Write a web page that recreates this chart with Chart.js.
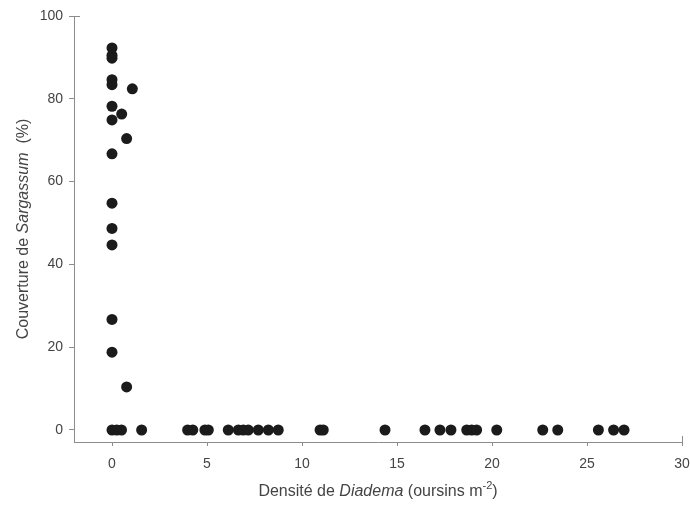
<!DOCTYPE html>
<html><head><meta charset="utf-8">
<script src="https://cdn.jsdelivr.net/npm/chart.js@4"></script>
<style>html,body{margin:0;background:#fff}#c{display:block}</style>
</head><body>
<canvas id="c" width="690" height="509"></canvas>
<script>
// Densité de Diadema (oursins m-2) vs couverture de Sargassum (%)
const densite = [0, 0, 0, 0, 0, 1.07, 0, 0.51, 0, 0.77, 0, 0, 0, 0, 0, 0, 0.77,
  0, 0.25, 0.5, 1.56, 3.98, 4.25, 4.89, 5.07, 6.12, 6.65, 6.91, 7.17, 7.7, 8.23, 8.75,
  10.95, 11.12, 14.37, 16.47, 17.26, 17.84, 18.67, 18.93, 19.19, 20.25, 22.67, 23.46,
  25.6, 26.4, 26.95];
const couverture = [92.3, 90.5, 89.8, 84.6, 83.4, 82.4, 78.2, 76.3, 74.9, 70.4, 66.7, 54.8, 48.7, 44.7, 26.7, 18.8, 10.4,
  0, 0, 0, 0, 0, 0, 0, 0, 0, 0, 0, 0, 0, 0, 0,
  0, 0, 0, 0, 0, 0, 0, 0, 0, 0, 0, 0,
  0, 0, 0];
const xTicks = [0, 5, 10, 15, 20, 25, 30];
const yTicks = [0, 20, 40, 60, 80, 100];

const axisCol = '#8c8c8c';
const textCol = '#444';
const fam = '"Liberation Sans", Arial, sans-serif';

// draws a line of text made of styled pieces, centered on (cx, cy)
function richText(ctx, parts, cx, cy, rot) {
  ctx.save();
  ctx.translate(cx, cy);
  if (rot) ctx.rotate(rot);
  ctx.fillStyle = textCol;
  ctx.textBaseline = 'middle';
  let w = 0;
  for (const p of parts) { ctx.font = p.font; w += ctx.measureText(p.t).width; }
  let x = -w / 2;
  for (const p of parts) {
    ctx.font = p.font;
    ctx.fillText(p.t, x, p.dy || 0);
    x += ctx.measureText(p.t).width;
  }
  ctx.restore();
}

const extras = {
  id: 'extras',
  afterDraw(chart) {
    const ctx = chart.ctx, a = chart.chartArea;
    const xs = chart.scales.x, ys = chart.scales.y;
    ctx.save();
    ctx.strokeStyle = axisCol;
    ctx.lineWidth = 1;
    // end caps at 30 and 100
    const x30 = Math.round(xs.getPixelForValue(30)) + 0.5;
    ctx.beginPath(); ctx.moveTo(x30, a.bottom - 6); ctx.lineTo(x30, a.bottom); ctx.stroke();
    const y100 = Math.round(ys.getPixelForValue(100)) + 0.5;
    ctx.beginPath(); ctx.moveTo(a.left, y100); ctx.lineTo(a.left + 6, y100); ctx.stroke();
    ctx.restore();
    const f = '16px ' + fam, fi = 'italic 16px ' + fam, fs = '11px ' + fam;
    richText(ctx, [{t: 'Densité de ', font: f}, {t: 'Diadema', font: fi}, {t: ' (oursins m', font: f},
      {t: '-2', font: fs, dy: -6}, {t: ')', font: f}], (a.left + a.right) / 2, 492, 0);
    richText(ctx, [{t: 'Couverture de ', font: f}, {t: 'Sargassum', font: fi}, {t: '  (%)', font: f}],
      24, (a.top + a.bottom) / 2, -Math.PI / 2);
  }
};

new Chart(document.getElementById('c'), {
  type: 'scatter',
  data: {
    datasets: [{
      data: densite.map((x, i) => ({x: x, y: couverture[i]})),
      pointRadius: 5.5,
      pointHoverRadius: 5.5,
      backgroundColor: '#1b1b1b',
      borderWidth: 0
    }]
  },
  options: {
    responsive: false,
    animation: false,
    events: [],
    layout: {padding: {top: 16, right: 8, left: 0, bottom: 0}},
    plugins: {legend: {display: false}, tooltip: {enabled: false}},
    scales: {
      x: {
        type: 'linear', min: -2, max: 30,
        afterBuildTicks: s => { s.ticks = xTicks.map(v => ({value: v})); },
        afterFit: s => { s.height = 67; s.paddingLeft = 0; s.paddingRight = 0; },
        grid: {drawOnChartArea: false, color: axisCol, tickLength: 4},
        border: {color: axisCol},
        ticks: {color: textCol, font: {family: fam, size: 14}, padding: 10, maxRotation: 0}
      },
      y: {
        type: 'linear', min: -2.9, max: 100,
        afterBuildTicks: s => { s.ticks = yTicks.map(v => ({value: v})); },
        afterFit: s => { s.width = 74; s.paddingTop = 0; s.paddingBottom = 0; },
        grid: {drawOnChartArea: false, color: axisCol, tickLength: 5},
        border: {color: axisCol},
        ticks: {color: textCol, font: {family: fam, size: 14}, padding: 6}
      }
    }
  },
  plugins: [extras]
});
</script>
</body></html>
